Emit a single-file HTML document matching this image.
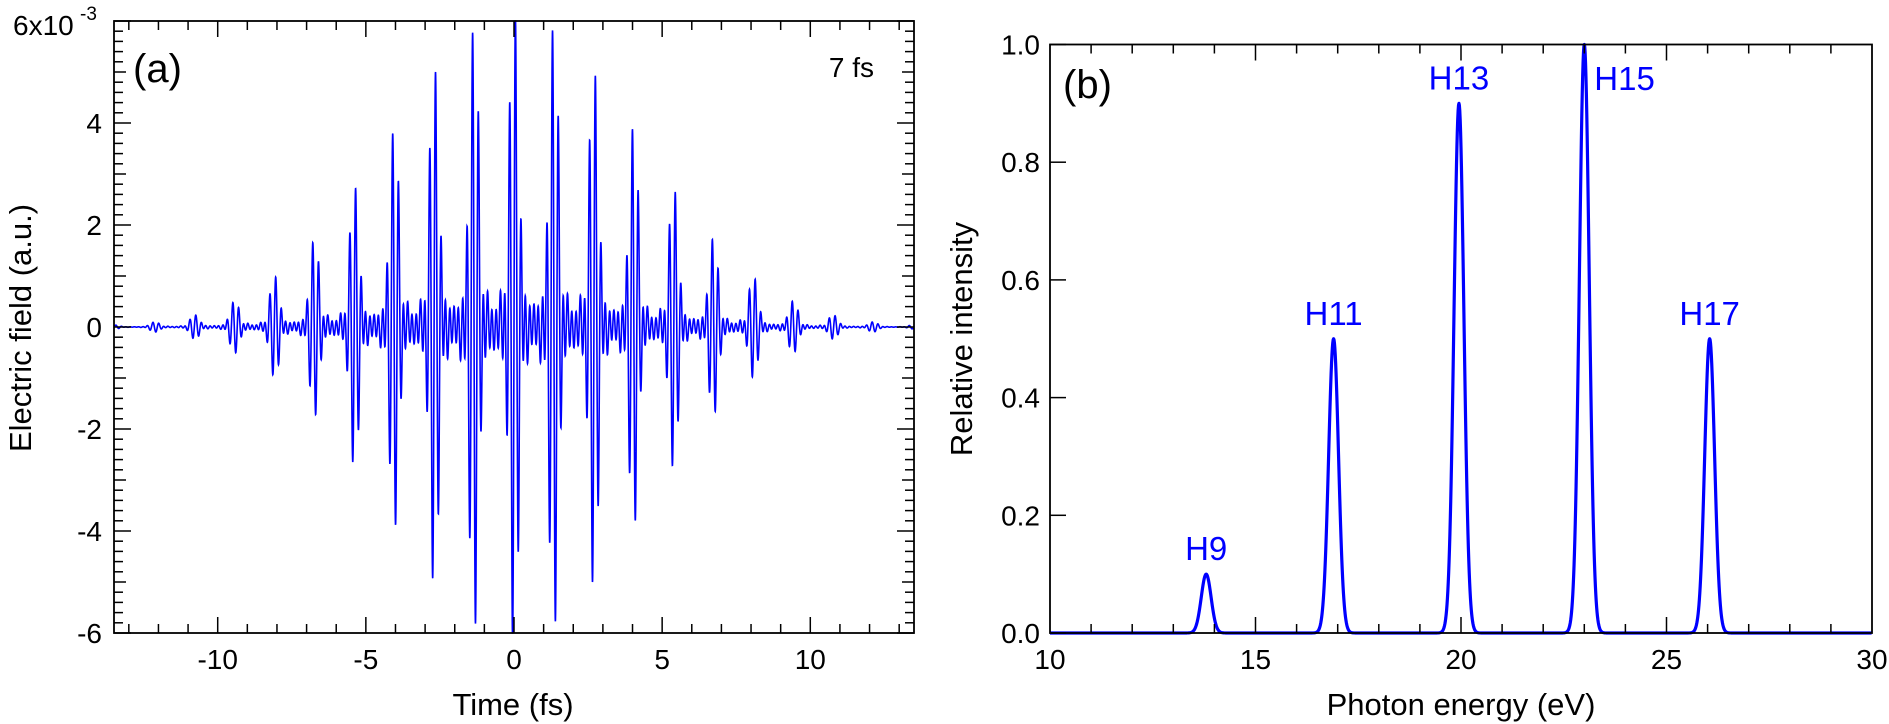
<!DOCTYPE html>
<html><head><meta charset="utf-8">
<style>
html,body{margin:0;padding:0;background:#fff;}
svg{display:block;font-family:"Liberation Sans",Arial,sans-serif;}
</style></head>
<body>
<svg id="fig" width="1889" height="724" viewBox="0 0 1889 724" xmlns="http://www.w3.org/2000/svg">
  <g id="panelA"></g>
  <g id="panelB"></g>
</svg>
<script>
// ---- data ----
const harmonicOrders = [9, 11, 13, 15, 17];
const harmonicEnergies = [13.8, 16.9, 19.95, 23.0, 26.05];
const harmonicIntensities = [0.1, 0.5, 0.9, 1.0, 0.5];
const harmonicLabels = ["H9", "H11", "H13", "H15", "H17"];
const pulseDurationFs = 7;
const peakField = 6.1e-3;
const xTicksA = [-10, -5, 0, 5, 10];
const yTicksA = [-6, -4, -2, 0, 2, 4];
const xTicksB = [10, 15, 20, 25, 30];
const yTicksB = ["0.0", "0.2", "0.4", "0.6", "0.8", "1.0"];

const NS = "http://www.w3.org/2000/svg";
function mk(parent, tag, attrs, text) {
  const el = document.createElementNS(NS, tag);
  for (const k in attrs) el.setAttribute(k, attrs[k]);
  if (text !== undefined) el.textContent = text;
  parent.appendChild(el);
  return el;
}

// ---- Panel A ----
const A = {x0: 114, x1: 914, y0: 21, y1: 633, tmin: -13.5, tmax: 13.5, emin: -6e-3, emax: 6e-3};
const xa = t => A.x0 + (t - A.tmin) / (A.tmax - A.tmin) * (A.x1 - A.x0);
const ya = e => A.y1 - (e - A.emin) / (A.emax - A.emin) * (A.y1 - A.y0);
const gA = document.getElementById('panelA');

const w0 = harmonicEnergies[3] / harmonicOrders[3];
const hbar = 0.6582;
const omega0 = w0 / hbar;
const ts = [], raw = [];
let rawMax = 0;
for (let t = A.tmin; t <= A.tmax; t += 0.004) {
  let s = 0;
  for (let i = 0; i < harmonicOrders.length; i++) {
    s += Math.sqrt(harmonicIntensities[i]) * Math.sin(harmonicOrders[i] * omega0 * t);
  }
  const env = Math.exp(-2 * Math.LN2 * t * t / (pulseDurationFs * pulseDurationFs));
  ts.push(t); raw.push(env * s);
  rawMax = Math.max(rawMax, Math.abs(env * s));
}
let d = "";
for (let k = 0; k < ts.length; k++) {
  const e = Math.max(A.emin, Math.min(A.emax, peakField * raw[k] / rawMax));
  d += (d ? "L" : "M") + xa(ts[k]).toFixed(2) + "," + ya(e).toFixed(2);
}
const wave = mk(gA, 'path', {d: d, fill: 'none', stroke: '#0000ff', 'stroke-width': 1.6});



for (let t = -13; t <= 13; t++) {
  const major = t % 5 === 0;
  const L = major ? 16 : 9;
  mk(gA, 'line', {x1: xa(t), x2: xa(t), y1: A.y1, y2: A.y1 - L, stroke: '#000', 'stroke-width': 1.5});
  mk(gA, 'line', {x1: xa(t), x2: xa(t), y1: A.y0, y2: A.y0 + L, stroke: '#000', 'stroke-width': 1.5});
}
for (let k = -30; k <= 30; k++) {
  const e = k * 0.2e-3;
  const L = (k % 10 === 0) ? 17 : (k % 5 === 0 ? 12 : 9);
  mk(gA, 'line', {x1: A.x0, x2: A.x0 + L, y1: ya(e), y2: ya(e), stroke: '#000', 'stroke-width': 1.5});
  mk(gA, 'line', {x1: A.x1, x2: A.x1 - L, y1: ya(e), y2: ya(e), stroke: '#000', 'stroke-width': 1.5});
}
const frameA = mk(gA, 'rect', {x: A.x0, y: A.y0, width: A.x1 - A.x0, height: A.y1 - A.y0, fill: 'none', stroke: '#000', 'stroke-width': 1.8});


xTicksA.forEach(t => {
  const el = mk(gA, 'text', {x: xa(t), y: 669, 'font-size': 28, 'text-anchor': 'middle'}, String(t));
  
  
});
yTicksA.forEach(v => {
  const el = mk(gA, 'text', {x: 102, y: ya(v * 1e-3) + 10, 'font-size': 28, 'text-anchor': 'end'}, String(v));
  
  
});
const topLab = mk(gA, 'text', {x: 13, y: 35, 'font-size': 28}, "6x10");


const sup = mk(gA, 'text', {x: 80, y: 20, 'font-size': 19}, "-3");


const xtA = mk(gA, 'text', {x: 513, y: 715, 'font-size': 31, 'text-anchor': 'middle'}, "Time (fs)");


const ytA = mk(gA, 'text', {x: 0, y: 0, 'font-size': 31, 'text-anchor': 'middle', transform: 'translate(31,328) rotate(-90)'}, "Electric field (a.u.)");


const pa = mk(gA, 'text', {x: 133, y: 82, 'font-size': 40}, "(a)");


const fs = mk(gA, 'text', {x: 874, y: 77, 'font-size': 28, 'text-anchor': 'end'}, "7 fs");



// ---- Panel B ----
const B = {x0: 1050, x1: 1872, y0: 44.5, y1: 633, emin: 10, emax: 30, imin: 0, imax: 1};
const xb = e => B.x0 + (e - B.emin) / (B.emax - B.emin) * (B.x1 - B.x0);
const yb = v => B.y1 - (v - B.imin) / (B.imax - B.imin) * (B.y1 - B.y0);
const gB = document.getElementById('panelB');
const sigma = 0.12;
let db = "";
for (let e = B.emin; e <= B.emax; e += 0.01) {
  let s = 0;
  for (let i = 0; i < harmonicEnergies.length; i++) {
    s += harmonicIntensities[i] * Math.exp(-((e - harmonicEnergies[i]) ** 2) / (2 * sigma * sigma));
  }
  db += (db ? "L" : "M") + xb(e).toFixed(2) + "," + yb(s).toFixed(2);
}
const spec = mk(gB, 'path', {d: db, fill: 'none', stroke: '#0000ff', 'stroke-width': 3.2, 'stroke-linejoin': 'round'});



for (let e = 11; e < 30; e++) {
  const major = e % 5 === 0;
  const L = major ? 16 : 9;
  mk(gB, 'line', {x1: xb(e), x2: xb(e), y1: B.y1, y2: B.y1 - L, stroke: '#000', 'stroke-width': 1.5});
  mk(gB, 'line', {x1: xb(e), x2: xb(e), y1: B.y0, y2: B.y0 + L, stroke: '#000', 'stroke-width': 1.5});
}
yTicksB.forEach(v => {
  const y = yb(parseFloat(v));
  mk(gB, 'line', {x1: B.x0, x2: B.x0 + 16, y1: y, y2: y, stroke: '#000', 'stroke-width': 1.5});
  const el = mk(gB, 'text', {x: 1040, y: y + 10, 'font-size': 28, 'text-anchor': 'end'}, v);
  
  
});
const frameB = mk(gB, 'rect', {x: B.x0, y: B.y0, width: B.x1 - B.x0, height: B.y1 - B.y0, fill: 'none', stroke: '#000', 'stroke-width': 1.8});


xTicksB.forEach(t => {
  const el = mk(gB, 'text', {x: xb(t), y: 669, 'font-size': 28, 'text-anchor': 'middle'}, String(t));
  
  
});
const xtB = mk(gB, 'text', {x: 1461, y: 715, 'font-size': 31, 'text-anchor': 'middle'}, "Photon energy (eV)");


const ytB = mk(gB, 'text', {x: 0, y: 0, 'font-size': 31, 'text-anchor': 'middle', transform: 'translate(972,339) rotate(-90)'}, "Relative intensity");


const pb = mk(gB, 'text', {x: 1063, y: 98, 'font-size': 40}, "(b)");


harmonicLabels.forEach((lab, i) => {
  const isTop = harmonicIntensities[i] >= 0.99;
  const x = isTop ? xb(harmonicEnergies[i]) + 10 : xb(harmonicEnergies[i]);
  const y = isTop ? 90 : yb(harmonicIntensities[i]) - 14;
  const el = mk(gB, 'text', {x: x, y: y, 'font-size': 33, fill: '#0000ff', 'text-anchor': isTop ? 'start' : 'middle'}, lab);
  
  
});
</script>
</body></html>
